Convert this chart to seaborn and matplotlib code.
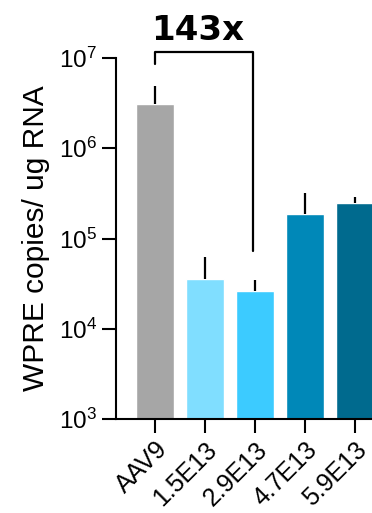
import numpy as np
import pandas as pd
import matplotlib
matplotlib.use("Agg")
import matplotlib.pyplot as plt
import seaborn as sns

# Data
groups = ["AAV9", "1.5E13", "2.9E13", "4.7E13", "5.9E13"]
mean_copies = [3.1e6, 3.6e4, 2.65e4, 1.87e5, 2.45e5]
upper_err = [4.9e6, 6.2e4, 3.5e4, 3.2e5, 2.9e5]
bar_colors = ["#A6A6A6", "#80DEFF", "#3CCBFF", "#0088B8", "#006A8E"]
fold_label = "143x"
ytick_vals = [1e3, 1e4, 1e5, 1e6, 1e7]
ytick_labels = ["$10^{3}$", "$10^{4}$", "$10^{5}$", "$10^{6}$", "$10^{7}$"]

sns.set_theme(style="ticks")
plt.rcParams["font.family"] = ["Liberation Sans", "DejaVu Sans"]
plt.rcParams["mathtext.default"] = "regular"
for key in ["text.color", "axes.labelcolor", "xtick.color", "ytick.color",
            "axes.edgecolor"]:
    plt.rcParams[key] = "black"

df = pd.DataFrame({"group": groups, "copies": mean_copies})

fig = plt.figure(figsize=(3.72, 5.13), dpi=100)
ax = fig.add_axes([0.313, 0.183, 0.687, 0.704])
ax.set_yscale("log")

sns.barplot(data=df, x="group", y="copies", hue="group", palette=bar_colors,
            width=0.77, legend=False, ax=ax, errorbar=None, saturation=1)

# upper-only error bars
x = np.arange(len(groups))
ax.vlines(x, mean_copies, upper_err, color="black", lw=1.6, zorder=3)

ax.set_ylim(1e3, 1e7)
ax.set_xlim(-0.77, 4.34)
ax.set_yticks(ytick_vals)
ax.set_yticklabels(ytick_labels, fontsize=17.5)
ax.yaxis.set_minor_locator(matplotlib.ticker.NullLocator())
ax.set_xticks(x)
ax.set_xticklabels(groups, fontsize=18, rotation=45, ha="right",
                   rotation_mode="anchor")
ax.set_xlabel("")
ax.set_ylabel("WPRE copies/ ug RNA", fontsize=21.5, labelpad=6)

ax.tick_params(axis="both", length=10, width=1.5, color="black", pad=4)
ax.tick_params(axis="x", pad=3)
for s in ["left", "bottom"]:
    ax.spines[s].set_linewidth(1.5)
    ax.spines[s].set_color("black")
sns.despine(ax=ax)

# comparison bracket
bx0, bx1 = 0.0, 1.97
by = 1.165e7
ax.plot([bx0, bx0, bx1, bx1], [8.6e6, by, by, 7.2e4], color="black",
        lw=1.6, clip_on=False, zorder=4)
ax.text(0.86, 1.58e7, fold_label, ha="center", va="baseline", color="black",
        fontsize=24.5, fontweight="bold", family="DejaVu Sans")

fig.savefig("out.png", dpi=100)
